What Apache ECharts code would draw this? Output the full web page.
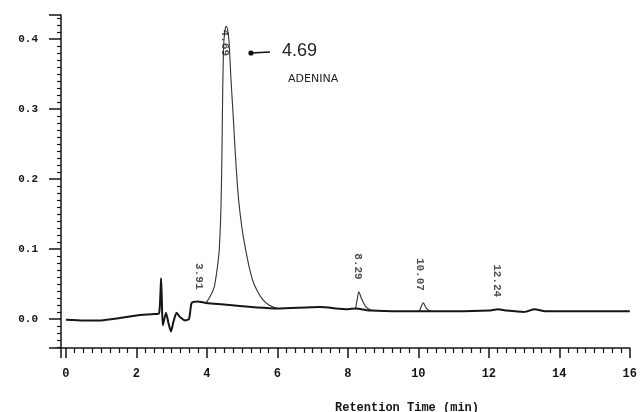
<!DOCTYPE html>
<html><head><meta charset="utf-8">
<script src="https://cdn.jsdelivr.net/npm/echarts@6/dist/echarts.min.js"></script>
<style>html,body{margin:0;padding:0;background:#fff}#c{width:640px;height:412px}</style>
</head><body><div id="c"></div><script>
// Detector trace (baseline part), retention time in min, absorbance
const traceTime  = [0, 0.5, 1.0, 1.5, 2.0, 2.5, 2.64, 2.68, 2.70, 2.72, 2.75, 2.84, 2.91, 2.98, 3.05, 3.14, 3.25, 3.39, 3.49, 3.53, 3.57, 3.73, 3.98, 6.0, 7.2, 8.0, 8.22, 8.66, 9.5, 10.03, 10.34, 11.0, 12.0, 12.26, 12.5, 13.0, 13.3, 13.6, 14.5, 16.0];
const traceValue = [-0.001, -0.002, -0.002, 0.001, 0.005, 0.007, 0.008, 0.035, 0.058, 0.030, -0.009, 0.009, -0.006, -0.018, -0.004, 0.009, 0.002, -0.002, 0.000, 0.012, 0.023, 0.025, 0.023, 0.015, 0.017, 0.014, 0.015, 0.012, 0.011, 0.011, 0.011, 0.011, 0.012, 0.014, 0.012, 0.010, 0.014, 0.011, 0.011, 0.011];
// Peak outlines (null separates peaks)
const peakTime  = [3.98, 4.12, 4.21, 4.30, 4.35, 4.40, 4.43, 4.45, 4.48, 4.52, 4.55, 4.59, 4.63, 4.68, 4.74, 4.82, 4.90, 5.00, 5.10, 5.20, 5.30, 5.42, 5.58, 5.76, 5.99, null, 8.22, 8.28, 8.31, 8.38, 8.50, 8.66, null, 10.03, 10.10, 10.14, 10.22, 10.34];
const peakValue = [0.023, 0.035, 0.046, 0.075, 0.099, 0.160, 0.250, 0.330, 0.395, 0.414, 0.418, 0.412, 0.395, 0.345, 0.295, 0.225, 0.170, 0.128, 0.099, 0.074, 0.055, 0.041, 0.028, 0.020, 0.015, null, 0.015, 0.032, 0.039, 0.030, 0.018, 0.012, null, 0.011, 0.020, 0.023, 0.016, 0.011];
// Peak retention-time labels
const labelText  = ['3.91', '4.69', '8.29', '10.07', '12.24'];
const labelTime  = [3.78, 4.50, 8.27, 10.05, 12.22];
const labelValue = [0.025, 0.416, 0.039, 0.023, 0.014];
// Axis tick labels
const yTickLabels = ['0.0', '0.1', '0.2', '0.3', '0.4'];
const xTickLabels = ['0', '2', '4', '6', '8', '10', '12', '14', '16'];

const mono = 'Liberation Mono';
const ink = '#151515';
const pairs = (a, b) => a.map((t, i) => (t === null ? [null, null] : [t, b[i]]));

const labelData = labelText.map((s, i) => {
  const d = { value: [labelTime[i], labelValue[i]], name: s };
  if (s === '4.69') {
    d.label = { position: 'bottom', distance: 2, align: 'left', verticalAlign: 'middle' };
  }
  return d;
});

const chart = echarts.init(document.getElementById('c'));
chart.setOption({
  animation: false,
  backgroundColor: '#ffffff',
  grid: { left: 61, right: 7, top: 15, bottom: 64 },
  title: {
    text: 'Retention Time (min)', left: 330, top: 397,
    textStyle: { fontFamily: mono, fontWeight: 'bold', fontSize: 12, color: ink }
  },
  xAxis: {
    type: 'value', min: -0.14, max: 16, splitNumber: 8,
    splitLine: { show: false },
    axisLine: { onZero: false, lineStyle: { color: ink, width: 1.5 } },
    axisTick: { length: 10, lineStyle: { color: ink, width: 1.5 } },
    minorTick: { show: true, splitNumber: 8, length: 5, lineStyle: { color: ink, width: 1.2 } },
    axisLabel: {
      margin: 20, fontFamily: mono, fontWeight: 'bold', fontSize: 12, color: ink,
      showMinLabel: false,
      formatter: v => { const s = String(Math.round(v)); return (Math.abs(v - Math.round(v)) < 1e-6 && xTickLabels.includes(s)) ? s : ''; }
    }
  },
  yAxis: {
    type: 'value', min: -0.0414, max: 0.434, splitNumber: 5,
    splitLine: { show: false },
    axisLine: { onZero: false, lineStyle: { color: ink, width: 1.5 } },
    axisTick: { length: 12, lineStyle: { color: ink, width: 1.5 } },
    minorTick: { show: true, splitNumber: 10, length: 4, lineStyle: { color: ink, width: 1.2 } },
    axisLabel: {
      margin: 23, fontFamily: mono, fontWeight: 'bold', fontSize: 11, color: ink,
      showMinLabel: false, showMaxLabel: false,
      formatter: v => { const s = v.toFixed(1); return (Math.abs(v * 10 - Math.round(v * 10)) < 1e-6 && yTickLabels.includes(s)) ? s : ''; }
    }
  },
  series: [
    {
      type: 'line', data: pairs(traceTime, traceValue), showSymbol: false, smooth: 0.2,
      lineStyle: { color: ink, width: 2 }, z: 3
    },
    {
      type: 'line', data: pairs(peakTime, peakValue), showSymbol: false, smooth: 0.3, connectNulls: false,
      lineStyle: { color: '#333', width: 1.1 }, z: 2
    },
    {
      type: 'scatter', data: labelData, symbolSize: 0,
      label: {
        show: true, formatter: p => p.name, position: 'top', distance: 12,
        rotate: -90, align: 'right', verticalAlign: 'middle',
        fontFamily: mono, fontWeight: 'bold', fontSize: 11, color: '#222'
      }, z: 4
    }
  ],
  graphic: [
    { type: 'circle', shape: { cx: 251, cy: 53, r: 2.6 }, style: { fill: '#111' } },
    { type: 'line', shape: { x1: 251, y1: 53, x2: 270, y2: 52 }, style: { stroke: '#111', lineWidth: 1.6 } },
    { type: 'text', x: 282, y: 42, style: { text: '4.69', font: '18px "Liberation Sans"', fill: '#222' } },
    { type: 'text', x: 288, y: 74, style: { text: 'ADENINA', font: '11px "DejaVu Sans"', fill: '#222' } }
  ]
});
</script></body></html>
